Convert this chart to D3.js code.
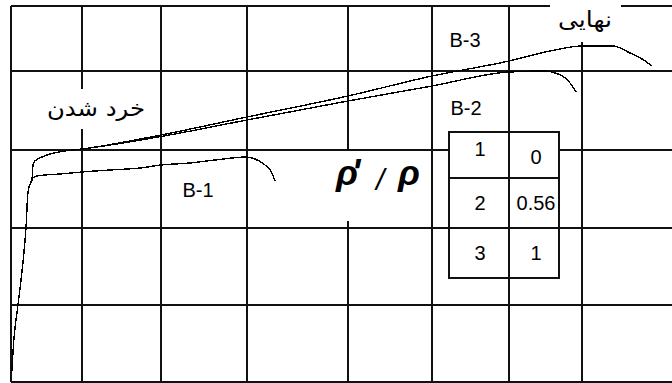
<!DOCTYPE html>
<html>
<head>
<meta charset="utf-8">
<script src="https://cdn.jsdelivr.net/npm/d3@7"></script>
<style>
  html, body { margin: 0; padding: 0; background: #fff; overflow: hidden; }
  svg { display: block; }
</style>
</head>
<body>
<svg id="chart" width="672" height="383"></svg>
<script>
// Grid tick values (deflection / load units)
const xGridTicks = [0, 7.1, 15.0, 23.6, 33.7, 42.1, 49.8, 57.1];
const yGridTicks = [0, 7.7, 15.4, 23.2, 31.1, 37.6];

// Load–deflection curves of the three beams
const b1Deflection = [0.1, 0.2, 0.7, 1.2, 1.5, 1.7, 2.0, 2.2, 2.6, 3.4, 4.9, 7.1, 9.9, 12.9, 15.0, 17.9, 20.4, 23.6, 24.4, 25.4, 26.1, 26.4];
const b1Load       = [1.1, 3.0, 7.7, 12.0, 15.4, 19.0, 20.0, 20.4, 20.6, 20.7, 20.8, 21.0, 21.2, 21.4, 21.7, 21.9, 22.2, 22.5, 22.3, 21.7, 20.9, 20.1];

const b2Deflection = [0.1, 0.2, 0.7, 1.2, 1.5, 1.7, 2.0, 2.1, 2.2, 2.4, 3.1, 3.9, 5.4, 7.1, 15.0, 23.6, 33.7, 42.1, 49.8, 53.4, 54.4, 55.3, 55.9, 56.5];
const b2Load       = [1.1, 3.0, 7.7, 12.0, 15.4, 19.0, 20.0, 20.2, 21.7, 22.1, 22.5, 22.8, 23.1, 23.3, 24.55, 26.2, 28.1, 29.6, 31.0, 31.1, 30.9, 30.5, 29.9, 29.0];

const b3Deflection = [0.1, 0.2, 0.7, 1.2, 1.5, 1.7, 2.0, 2.1, 2.2, 2.4, 3.1, 3.9, 5.4, 7.1, 15.0, 23.6, 33.7, 42.1, 49.8, 53.9, 57.1, 60.2, 61.9, 63.1, 64.1];
const b3Load       = [1.1, 3.0, 7.7, 12.0, 15.4, 19.0, 20.0, 20.2, 21.7, 22.1, 22.5, 22.8, 23.1, 23.3, 24.7, 26.5, 28.6, 30.6, 32.1, 33.1, 33.6, 33.6, 32.9, 32.3, 31.6];

const seriesNames = ["B-1", "B-2", "B-3"];

// Reinforcement ratio table
const tableCase  = ["1", "2", "3"];
const tableRatio = ["0", "0.56", "1"];

// Annotations
const crushingLabel = "خرد شدن";
const ultimateLabel = "نهایی";

// ---------------------------------------------------------------
const W = 672, H = 383;
const svg = d3.select("#chart");

const x = d3.scaleLinear().domain([0, 66.1]).range([11, 672]);
const y = d3.scaleLinear().domain([0, 37.6]).range([382, 6]);

const latin = "'Liberation Sans', Arial, sans-serif";
const persian = "'DejaVu Sans', 'Noto Sans', sans-serif";

// Grid
const grid = svg.append("g").attr("stroke", "#111").attr("stroke-width", 1.5).attr("shape-rendering", "crispEdges");
grid.selectAll("line.v").data(xGridTicks).join("line")
  .attr("class", "v")
  .attr("x1", d => x(d)).attr("x2", d => x(d))
  .attr("y1", y(37.6)).attr("y2", y(0));
grid.selectAll("line.h").data(yGridTicks).join("line")
  .attr("class", "h")
  .attr("x1", x(0)).attr("x2", W)
  .attr("y1", d => y(d)).attr("y2", d => y(d));

// Label backdrops that interrupt the grid
const backdrop = svg.append("g").attr("fill", "#fff");
backdrop.append("rect").attr("x", 43).attr("y", 89).attr("width", 107).attr("height", 40);
backdrop.append("rect").attr("x", 325).attr("y", 151).attr("width", 103).attr("height", 70);
backdrop.append("rect").attr("x", 550).attr("y", 0).attr("width", 71).attr("height", 42);

// Curves
const series = [
  { name: "B-1", xs: b1Deflection, ys: b1Load },
  { name: "B-2", xs: b2Deflection, ys: b2Load },
  { name: "B-3", xs: b3Deflection, ys: b3Load }
];
const line = d3.line()
  .x(d => x(d[0])).y(d => y(d[1]))
  .curve(d3.curveMonotoneX);

svg.append("g").selectAll("path").data(series).join("path")
  .attr("d", s => line(s.xs.map((v, i) => [v, s.ys[i]])))
  .attr("fill", "none")
  .attr("stroke", "#000")
  .attr("stroke-width", 1.4)
  .attr("shape-rendering", "crispEdges");

// Series labels
const labelAt = { "B-1": [18.7, 18.5], "B-2": [45.5, 26.7], "B-3": [45.4, 33.5] };
svg.append("g").selectAll("text").data(seriesNames).join("text")
  .attr("x", d => x(labelAt[d][0]))
  .attr("y", d => y(labelAt[d][1]))
  .attr("text-anchor", "middle")
  .attr("font-family", latin)
  .attr("font-size", 20)
  .attr("fill", "#000")
  .text(d => d);

// Persian annotations
svg.append("text")
  .attr("x", 47).attr("y", 116)
  .attr("font-family", persian).attr("font-size", 22)
  .attr("textLength", 98).attr("lengthAdjust", "spacingAndGlyphs")
  .text(crushingLabel);
svg.append("text")
  .attr("x", 558).attr("y", 27)
  .attr("font-family", persian).attr("font-size", 22)
  .attr("textLength", 54).attr("lengthAdjust", "spacingAndGlyphs")
  .text(ultimateLabel);

// rho' / rho heading
const rho = svg.append("g").attr("font-family", latin).attr("fill", "#000");
rho.append("text").attr("x", 336).attr("y", 185)
  .attr("font-size", 36).attr("font-weight", "bold").attr("font-style", "italic")
  .attr("letter-spacing", -6)
  .text("ρ'");
rho.append("text").attr("x", 376).attr("y", 190)
  .attr("font-size", 30).attr("font-style", "italic").text("/");
rho.append("text").attr("x", 398).attr("y", 185)
  .attr("font-size", 36).attr("font-weight", "bold").attr("font-style", "italic").text("ρ");

// Ratio table
const tbl = { left: 449, mid: 509, right: 559 };
const rowEdges = [132, 178, 228, 278];
const table = svg.append("g");
const rows = table.selectAll("g").data(tableCase).join("g");
rows.append("rect")
  .attr("x", tbl.left).attr("y", (d, i) => rowEdges[i])
  .attr("width", tbl.mid - tbl.left).attr("height", (d, i) => rowEdges[i + 1] - rowEdges[i]);
rows.append("rect")
  .attr("x", tbl.mid).attr("y", (d, i) => rowEdges[i])
  .attr("width", tbl.right - tbl.mid).attr("height", (d, i) => rowEdges[i + 1] - rowEdges[i]);
rows.selectAll("rect")
  .attr("fill", "#fff").attr("stroke", "#111").attr("stroke-width", 1.5)
  .attr("shape-rendering", "crispEdges");
const leftNudge = [-6, 0, 0], rightNudge = [2, 0, 0];
rows.append("text")
  .attr("x", 480)
  .attr("y", (d, i) => (rowEdges[i] + rowEdges[i + 1]) / 2 + 7 + leftNudge[i])
  .attr("text-anchor", "middle")
  .attr("font-family", latin).attr("font-size", 20)
  .text(d => d);
rows.append("text")
  .attr("x", 536)
  .attr("y", (d, i) => (rowEdges[i] + rowEdges[i + 1]) / 2 + 7 + rightNudge[i])
  .attr("text-anchor", "middle")
  .attr("font-family", latin).attr("font-size", 20)
  .text((d, i) => tableRatio[i]);
</script>
</body>
</html>
